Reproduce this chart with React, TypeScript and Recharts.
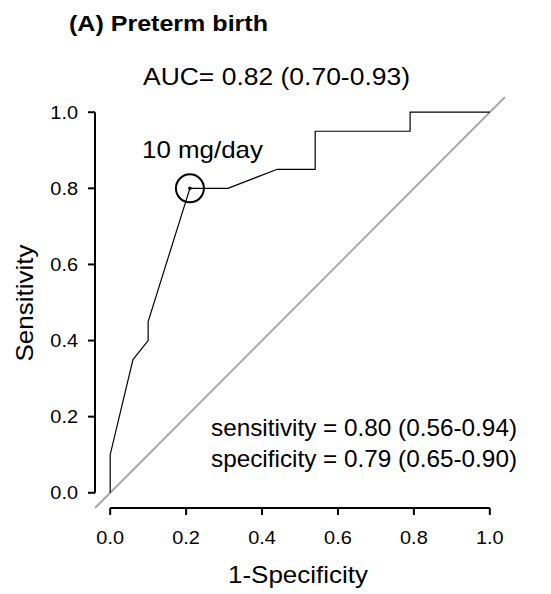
import { LineChart, Line, XAxis, YAxis, ReferenceLine, ReferenceDot } from 'recharts'

const fpr = [0, 0, 0.06, 0.1, 0.1, 0.21, 0.31, 0.44, 0.54, 0.54, 0.79, 0.79, 1]
const tpr = [0, 0.1, 0.35, 0.4, 0.45, 0.8, 0.8, 0.85, 0.85, 0.95, 0.95, 1, 1]
const axisTicks = [0, 0.2, 0.4, 0.6, 0.8, 1]
const axisRange: [number, number] = [-0.04, 1.04]
const cutoff = { fpr: 0.21, tpr: 0.8, label: '10 mg/day' }
const panelTitle = '(A) Preterm birth'
const aucText = 'AUC= 0.82 (0.70-0.93)'
const statLines = ['sensitivity = 0.80 (0.56-0.94)', 'specificity = 0.79 (0.65-0.90)']

const roc = fpr.map((x, i) => ({ fpr: x, tpr: tpr[i] }))
// R-style axis lines: they sit on the plot-box edge and only span first..last tick
const lo = axisRange[0]
const first = axisTicks[0]
const last = axisTicks[axisTicks.length - 1]
const xAxisLine = [{ fpr: first, xline: lo }, { fpr: last, xline: lo }]
const yAxisLine = [{ fpr: lo, yline: first }, { fpr: lo, yline: last }]

const FONT = '"Liberation Sans", Arial, sans-serif'
const W = 551
const H = 594

const XTick = ({ x, y, payload }: any) => (
  <text x={x} y={y} dy="0.71em" textAnchor="middle" fontSize={18.5} fontFamily={FONT} fill="#000"
    textLength={27.7} lengthAdjust="spacingAndGlyphs">
    {Number(payload.value).toFixed(1)}
  </text>
)

const YTick = ({ x, y, payload }: any) => (
  <text x={x} y={y} dy="0.36em" textAnchor="end" fontSize={18.5} fontFamily={FONT} fill="#000"
    textLength={27.7} lengthAdjust="spacingAndGlyphs">
    {Number(payload.value).toFixed(1)}
  </text>
)

export default function App() {
  return (
    <div style={{ position: 'absolute', left: 0, top: 0, width: W, height: H, background: '#fff' }}>
      <LineChart width={W} height={H} margin={{ top: 97, right: 46, left: 0, bottom: 0 }}>
        <XAxis type="number" dataKey="fpr" domain={axisRange} ticks={axisTicks} allowDuplicatedCategory={false}
          axisLine={false} tickSize={7} tickMargin={16} height={86}
          tickLine={{ stroke: '#000', strokeWidth: 2 }} tick={<XTick />} />
        <YAxis type="number" domain={axisRange} ticks={axisTicks}
          axisLine={false} tickSize={7} tickMargin={10} width={95}
          tickLine={{ stroke: '#000', strokeWidth: 2 }} tick={<YTick />} />
        <ReferenceLine key="diag" segment={[{ x: lo, y: lo }, { x: axisRange[1], y: axisRange[1] }]}
          stroke="#a9a9a9" strokeWidth={2} ifOverflow="visible" />
        <Line key="l1" data={xAxisLine} dataKey="xline" type="linear" stroke="#000" strokeWidth={2} dot={false} isAnimationActive={false} />
        <Line key="l2" data={yAxisLine} dataKey="yline" type="linear" stroke="#000" strokeWidth={2} dot={false} isAnimationActive={false} />
        <Line key="roc" data={roc} dataKey="tpr" type="linear" stroke="#000" strokeWidth={1.2} dot={false} isAnimationActive={false} />
        <ReferenceDot x={cutoff.fpr} y={cutoff.tpr} r={14} fill="none" stroke="#000" strokeWidth={2} ifOverflow="visible" />
        <ReferenceDot x={cutoff.fpr} y={cutoff.tpr} r={1.8} fill="#000" stroke="none" ifOverflow="visible" />
      </LineChart>
      <svg width={W} height={H} style={{ position: 'absolute', left: 0, top: 0, pointerEvents: 'none' }} fontFamily={FONT} fill="#000">
        <text x={69} y={31} fontSize={22.5} fontWeight="bold" textLength={199} lengthAdjust="spacingAndGlyphs">{panelTitle}</text>
        <text x={143} y={85} fontSize={23.5} textLength={267} lengthAdjust="spacingAndGlyphs">{aucText}</text>
        <text x={142} y={158} fontSize={24} textLength={121} lengthAdjust="spacingAndGlyphs">{cutoff.label}</text>
        {statLines.map((s, i) => (
          <text key={s} x={211} y={436 + i * 31} fontSize={24} textLength={306} lengthAdjust="spacingAndGlyphs">{s}</text>
        ))}
        <text x={298} y={583} fontSize={24} textAnchor="middle" textLength={140} lengthAdjust="spacingAndGlyphs">1-Specificity</text>
        <text x={33} y={303} fontSize={24} textAnchor="middle" textLength={117} lengthAdjust="spacingAndGlyphs"
          transform="rotate(-90 33 303)">Sensitivity</text>
      </svg>
    </div>
  )
}
